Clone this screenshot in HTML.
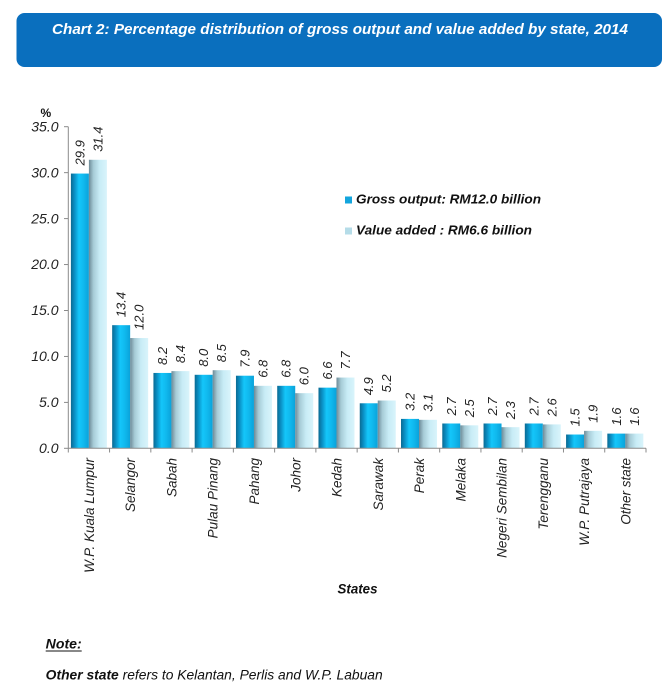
<!DOCTYPE html>
<html>
<head>
<meta charset="utf-8">
<style>
html,body{margin:0;padding:0;background:#fff;}
svg{display:block;}
text{font-family:"Liberation Sans",Arial,sans-serif;}
</style>
</head>
<body>
<svg width="670" height="691" viewBox="0 0 670 691" xmlns="http://www.w3.org/2000/svg">
<defs>
<linearGradient id="g1" x1="0" y1="0" x2="1" y2="0">
<stop offset="0" stop-color="#0b6a92"/>
<stop offset="0.2" stop-color="#0a8fc4"/>
<stop offset="0.45" stop-color="#14c6fa"/>
<stop offset="0.7" stop-color="#10b9ee"/>
<stop offset="1" stop-color="#0aa2da"/>
</linearGradient>
<linearGradient id="g2" x1="0" y1="0" x2="1" y2="0">
<stop offset="0" stop-color="#6d8a97"/>
<stop offset="0.25" stop-color="#a6cbd6"/>
<stop offset="0.6" stop-color="#c8ecf6"/>
<stop offset="1" stop-color="#d9f4fb"/>
</linearGradient>
</defs>

<!-- Header -->
<rect x="16.5" y="13" width="645.5" height="54" rx="8" ry="8" fill="#0a6fbe"/>
<text x="340" y="34" text-anchor="middle" fill="#fff" font-size="15" font-weight="bold" font-style="italic" textLength="576" lengthAdjust="spacingAndGlyphs">Chart 2: Percentage distribution of gross output and value added by state, 2014</text>

<!-- % -->
<text x="40.5" y="117" font-size="12" font-weight="bold" fill="#111">%</text>

<!-- Y axis -->
<g stroke="#8a8a8a" stroke-width="1">
<line x1="68.3" y1="126.7" x2="68.3" y2="448.3"/>
<line x1="64" y1="126.7" x2="68.3" y2="126.7"/>
<line x1="64" y1="172.65" x2="68.3" y2="172.65"/>
<line x1="64" y1="218.6" x2="68.3" y2="218.6"/>
<line x1="64" y1="264.55" x2="68.3" y2="264.55"/>
<line x1="64" y1="310.5" x2="68.3" y2="310.5"/>
<line x1="64" y1="356.45" x2="68.3" y2="356.45"/>
<line x1="64" y1="402.4" x2="68.3" y2="402.4"/>
<line x1="64" y1="448.3" x2="68.3" y2="448.3"/>
</g>
<g font-size="14" font-style="italic" fill="#222" text-anchor="end">
<text x="58.5" y="131.4">35.0</text>
<text x="58.5" y="177.3">30.0</text>
<text x="58.5" y="223.3">25.0</text>
<text x="58.5" y="269.2">20.0</text>
<text x="58.5" y="315.2">15.0</text>
<text x="58.5" y="361.1">10.0</text>
<text x="58.5" y="407.1">5.0</text>
<text x="58.5" y="453">0.0</text>
</g>

<!-- Bars -->
<g>
<rect x="70.9" y="173.56" width="18" height="274.74" fill="url(#g1)"/>
<rect x="88.9" y="159.78" width="18" height="288.52" fill="url(#g2)"/>
<rect x="112.16" y="325.17" width="18" height="123.13" fill="url(#g1)"/>
<rect x="130.16" y="338.04" width="18" height="110.26" fill="url(#g2)"/>
<rect x="153.43" y="372.95" width="18" height="75.35" fill="url(#g1)"/>
<rect x="171.43" y="371.12" width="18" height="77.18" fill="url(#g2)"/>
<rect x="194.69" y="374.79" width="18" height="73.51" fill="url(#g1)"/>
<rect x="212.69" y="370.2" width="18" height="78.1" fill="url(#g2)"/>
<rect x="235.96" y="375.71" width="18" height="72.59" fill="url(#g1)"/>
<rect x="253.96" y="385.82" width="18" height="62.48" fill="url(#g2)"/>
<rect x="277.22" y="385.82" width="18" height="62.48" fill="url(#g1)"/>
<rect x="295.22" y="393.17" width="18" height="55.13" fill="url(#g2)"/>
<rect x="318.48" y="387.65" width="18" height="60.65" fill="url(#g1)"/>
<rect x="336.48" y="377.55" width="18" height="70.75" fill="url(#g2)"/>
<rect x="359.75" y="403.28" width="18" height="45.02" fill="url(#g1)"/>
<rect x="377.75" y="400.52" width="18" height="47.78" fill="url(#g2)"/>
<rect x="401.01" y="418.9" width="18" height="29.4" fill="url(#g1)"/>
<rect x="419.01" y="419.82" width="18" height="28.48" fill="url(#g2)"/>
<rect x="442.28" y="423.49" width="18" height="24.81" fill="url(#g1)"/>
<rect x="460.28" y="425.33" width="18" height="22.97" fill="url(#g2)"/>
<rect x="483.54" y="423.49" width="18" height="24.81" fill="url(#g1)"/>
<rect x="501.54" y="427.17" width="18" height="21.13" fill="url(#g2)"/>
<rect x="524.8" y="423.49" width="18" height="24.81" fill="url(#g1)"/>
<rect x="542.8" y="424.41" width="18" height="23.89" fill="url(#g2)"/>
<rect x="566.07" y="434.52" width="18" height="13.78" fill="url(#g1)"/>
<rect x="584.07" y="430.84" width="18" height="17.46" fill="url(#g2)"/>
<rect x="607.33" y="433.6" width="18" height="14.7" fill="url(#g1)"/>
<rect x="625.33" y="433.6" width="18" height="14.7" fill="url(#g2)"/>
</g>

<!-- X axis -->
<g stroke="#8a8a8a" stroke-width="1">
<line x1="68.3" y1="448.3" x2="646" y2="448.3"/>
<line x1="68.3" y1="448.3" x2="68.3" y2="452.5"/>
<line x1="109.56" y1="448.3" x2="109.56" y2="452.5"/>
<line x1="150.83" y1="448.3" x2="150.83" y2="452.5"/>
<line x1="192.09" y1="448.3" x2="192.09" y2="452.5"/>
<line x1="233.36" y1="448.3" x2="233.36" y2="452.5"/>
<line x1="274.62" y1="448.3" x2="274.62" y2="452.5"/>
<line x1="315.88" y1="448.3" x2="315.88" y2="452.5"/>
<line x1="357.15" y1="448.3" x2="357.15" y2="452.5"/>
<line x1="398.41" y1="448.3" x2="398.41" y2="452.5"/>
<line x1="439.68" y1="448.3" x2="439.68" y2="452.5"/>
<line x1="480.94" y1="448.3" x2="480.94" y2="452.5"/>
<line x1="522.2" y1="448.3" x2="522.2" y2="452.5"/>
<line x1="563.47" y1="448.3" x2="563.47" y2="452.5"/>
<line x1="604.73" y1="448.3" x2="604.73" y2="452.5"/>
<line x1="646" y1="448.3" x2="646" y2="452.5"/>
</g>

<!-- Value labels -->
<g font-size="13" font-style="italic" fill="#222">
<text transform="translate(84.4,165.5) rotate(-90)">29.9</text>
<text transform="translate(102.4,151.8) rotate(-90)">31.4</text>
<text transform="translate(125.7,317.2) rotate(-90)">13.4</text>
<text transform="translate(143.7,330) rotate(-90)">12.0</text>
<text transform="translate(166.9,365) rotate(-90)">8.2</text>
<text transform="translate(184.9,363.1) rotate(-90)">8.4</text>
<text transform="translate(208.2,366.8) rotate(-90)">8.0</text>
<text transform="translate(226.2,362.2) rotate(-90)">8.5</text>
<text transform="translate(249.5,367.7) rotate(-90)">7.9</text>
<text transform="translate(267.5,377.8) rotate(-90)">6.8</text>
<text transform="translate(290.7,377.8) rotate(-90)">6.8</text>
<text transform="translate(308.7,385.2) rotate(-90)">6.0</text>
<text transform="translate(332,379.6) rotate(-90)">6.6</text>
<text transform="translate(350,369.5) rotate(-90)">7.7</text>
<text transform="translate(373.2,395.3) rotate(-90)">4.9</text>
<text transform="translate(391.2,392.5) rotate(-90)">5.2</text>
<text transform="translate(414.5,410.9) rotate(-90)">3.2</text>
<text transform="translate(432.5,411.8) rotate(-90)">3.1</text>
<text transform="translate(455.8,415.5) rotate(-90)">2.7</text>
<text transform="translate(473.8,417.3) rotate(-90)">2.5</text>
<text transform="translate(497,415.5) rotate(-90)">2.7</text>
<text transform="translate(515,419.2) rotate(-90)">2.3</text>
<text transform="translate(538.3,415.5) rotate(-90)">2.7</text>
<text transform="translate(556.3,416.4) rotate(-90)">2.6</text>
<text transform="translate(579.6,426.5) rotate(-90)">1.5</text>
<text transform="translate(597.6,422.8) rotate(-90)">1.9</text>
<text transform="translate(620.8,425.6) rotate(-90)">1.6</text>
<text transform="translate(638.8,425.6) rotate(-90)">1.6</text>
</g>

<!-- X category labels -->
<g font-size="13.5" font-style="italic" fill="#222" text-anchor="end">
<text transform="translate(94,458) rotate(-90)">W.P. Kuala Lumpur</text>
<text transform="translate(135.2,458) rotate(-90)">Selangor</text>
<text transform="translate(176.5,458) rotate(-90)">Sabah</text>
<text transform="translate(217.7,458) rotate(-90)">Pulau Pinang</text>
<text transform="translate(259,458) rotate(-90)">Pahang</text>
<text transform="translate(300.3,458) rotate(-90)">Johor</text>
<text transform="translate(341.5,458) rotate(-90)">Kedah</text>
<text transform="translate(382.8,458) rotate(-90)">Sarawak</text>
<text transform="translate(424,458) rotate(-90)">Perak</text>
<text transform="translate(465.3,458) rotate(-90)">Melaka</text>
<text transform="translate(506.6,458) rotate(-90)">Negeri Sembilan</text>
<text transform="translate(547.8,458) rotate(-90)">Terengganu</text>
<text transform="translate(589.1,458) rotate(-90)">W.P. Putrajaya</text>
<text transform="translate(630.4,458) rotate(-90)">Other state</text>
</g>

<!-- Legend -->
<rect x="345" y="196.5" width="7" height="7" fill="#13a5dd"/>
<text x="356" y="203.5" font-size="13" font-weight="bold" font-style="italic" fill="#111" textLength="185" lengthAdjust="spacingAndGlyphs">Gross output: RM12.0 billion</text>
<rect x="345" y="227.5" width="7" height="7" fill="#b5dce8"/>
<text x="356" y="234.5" font-size="13" font-weight="bold" font-style="italic" fill="#111" textLength="176" lengthAdjust="spacingAndGlyphs">Value added : RM6.6 billion</text>

<!-- Axis title -->
<text x="337.5" y="593.5" font-size="13.5" font-weight="bold" font-style="italic" fill="#111" textLength="40" lengthAdjust="spacingAndGlyphs">States</text>

<!-- Note -->
<text x="45.7" y="648.5" font-size="13.5" font-weight="bold" font-style="italic" fill="#111" textLength="36" lengthAdjust="spacingAndGlyphs">Note:</text>
<line x1="45.7" y1="651" x2="81.7" y2="651" stroke="#111" stroke-width="1"/>
<text x="45.7" y="679.5" font-size="13.5" font-style="italic" fill="#111" textLength="337" lengthAdjust="spacingAndGlyphs"><tspan font-weight="bold">Other state</tspan> refers to Kelantan, Perlis and W.P. Labuan</text>
</svg>
</body>
</html>
